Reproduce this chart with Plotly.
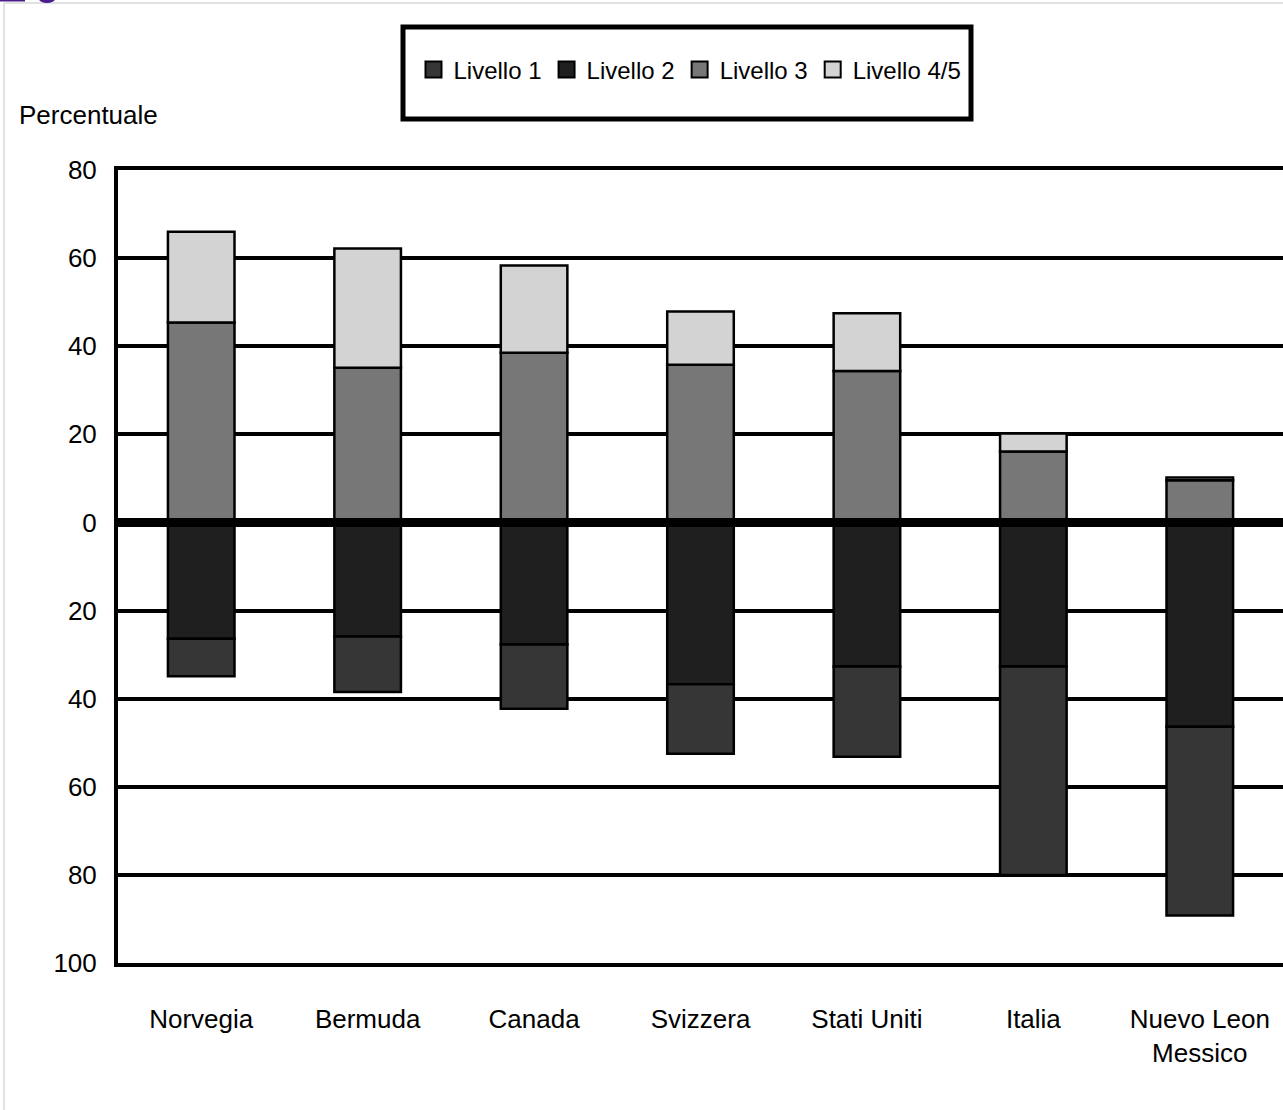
import plotly.graph_objects as go

# Percentuale di studenti per livello, paese per paese
categories = ["Norvegia", "Bermuda", "Canada", "Svizzera", "Stati Uniti", "Italia",
              "Nuevo Leon<br>Messico"]
livello1 = [8.5, 12.6, 14.6, 15.8, 20.5, 47.3, 42.8]
livello2 = [26.4, 25.9, 27.7, 36.7, 32.7, 32.7, 46.4]
livello3 = [45.4, 35.1, 38.5, 35.8, 34.4, 16.1, 9.6]
livello45 = [20.6, 27.1, 19.8, 12.1, 13.1, 4.1, 0.6]

tick_vals = [-100, -80, -60, -40, -20, 0, 20, 40, 60, 80]
tick_text = ["100", "80", "60", "40", "20", "0", "20", "40", "60", "80"]

series_names = ["Livello 1", "Livello 2", "Livello 3", "Livello 4/5"]
colors = {"Livello 1": "#363636", "Livello 2": "#1f1f1f",
          "Livello 3": "#777777", "Livello 4/5": "#d3d3d3"}

FONT = "Liberation Sans, Arial, sans-serif"
FS = 26

W, H = 1283, 1110
ML, MR, MT, MB = 118, 0, 170, 147


def px_x(x):
    return (x - ML) / (W - ML - MR)


def px_y(y):
    return (H - MB - y) / (H - MT - MB)


fig = go.Figure()

# Stack below zero: level 2 nearest the axis, then level 1
for name, vals in [("Livello 2", livello2), ("Livello 1", livello1)]:
    fig.add_trace(go.Bar(
        x=categories, y=[-v for v in vals], name=name, showlegend=False,
        marker=dict(color=colors[name], line=dict(color="#000000", width=2.5)),
        width=0.4, hoverinfo="x+name",
    ))

# Stack above zero: level 3, then level 4/5
for name, vals in [("Livello 3", livello3), ("Livello 4/5", livello45)]:
    fig.add_trace(go.Bar(
        x=categories, y=vals, name=name, showlegend=False,
        marker=dict(color=colors[name], line=dict(color="#000000", width=2.5)),
        width=0.4, hoverinfo="x+y+name",
    ))

# Legend entries
for name in series_names:
    fig.add_trace(go.Scatter(
        x=[None], y=[None], mode="markers", name=name,
        marker=dict(symbol="square", size=16, color=colors[name],
                    line=dict(color="#000000", width=2)),
    ))

fig.update_layout(
    width=W, height=H,
    margin=dict(l=ML, r=MR, t=MT, b=MB, pad=0),
    barmode="relative",
    bargap=0.6,
    paper_bgcolor="#ffffff",
    plot_bgcolor="#ffffff",
    font=dict(family=FONT, size=FS, color="#000000"),
    showlegend=True,
    legend=dict(
        orientation="h", x=px_x(690), y=px_y(70), xanchor="center", yanchor="middle",
        bgcolor="rgba(0,0,0,0)", borderwidth=0,
        font=dict(family=FONT, size=24, color="#000000"),
        itemwidth=30, tracegroupgap=0,
    ),
    xaxis=dict(
        type="category", showgrid=False, zeroline=False,
        showline=True, linecolor="#000000", linewidth=4, mirror=True,
        ticks="", ticklabelstandoff=30,
        tickfont=dict(family=FONT, size=FS, color="#000000"),
    ),
    yaxis=dict(
        range=[-100, 80], tickvals=tick_vals, ticktext=tick_text,
        showgrid=True, gridcolor="#000000", gridwidth=4,
        zeroline=False, showline=True, linecolor="#000000", linewidth=4,
        ticks="", ticklabelstandoff=12,
        tickfont=dict(family=FONT, size=FS, color="#000000"),
    ),
    shapes=[
        # heavy zero line drawn over the bars
        dict(type="line", xref="paper", yref="y", x0=0, x1=1, y0=0, y1=0,
             line=dict(color="#000000", width=9), layer="above"),
        # legend frame
        dict(type="rect", xref="paper", yref="paper",
             x0=px_x(403), x1=px_x(971), y0=px_y(27), y1=px_y(119),
             line=dict(color="#000000", width=5), fillcolor="rgba(0,0,0,0)",
             layer="above"),
        # thin page frame
        dict(type="line", xref="paper", yref="paper",
             x0=px_x(4), x1=px_x(1283), y0=px_y(3), y1=px_y(3),
             line=dict(color="#e2e2e2", width=2)),
        dict(type="line", xref="paper", yref="paper",
             x0=px_x(4), x1=px_x(4), y0=px_y(3), y1=px_y(1110),
             line=dict(color="#e2e2e2", width=2)),
        # heading remnants at the top edge
        dict(type="rect", xref="paper", yref="paper",
             x0=px_x(0), x1=px_x(25), y0=px_y(-1), y1=px_y(1.5),
             line=dict(width=0), fillcolor="#4a1f8c"),
        dict(type="circle", xref="paper", yref="paper",
             x0=px_x(39), x1=px_x(55), y0=px_y(-5), y1=px_y(3),
             line=dict(width=0), fillcolor="#4a1f8c"),
    ],
    annotations=[
        dict(text="Percentuale", xref="paper", yref="paper",
             x=px_x(17), y=px_y(115), xanchor="left", yanchor="middle",
             showarrow=False, font=dict(family=FONT, size=FS, color="#000000")),
    ],
)

fig.write_html("out.html")
